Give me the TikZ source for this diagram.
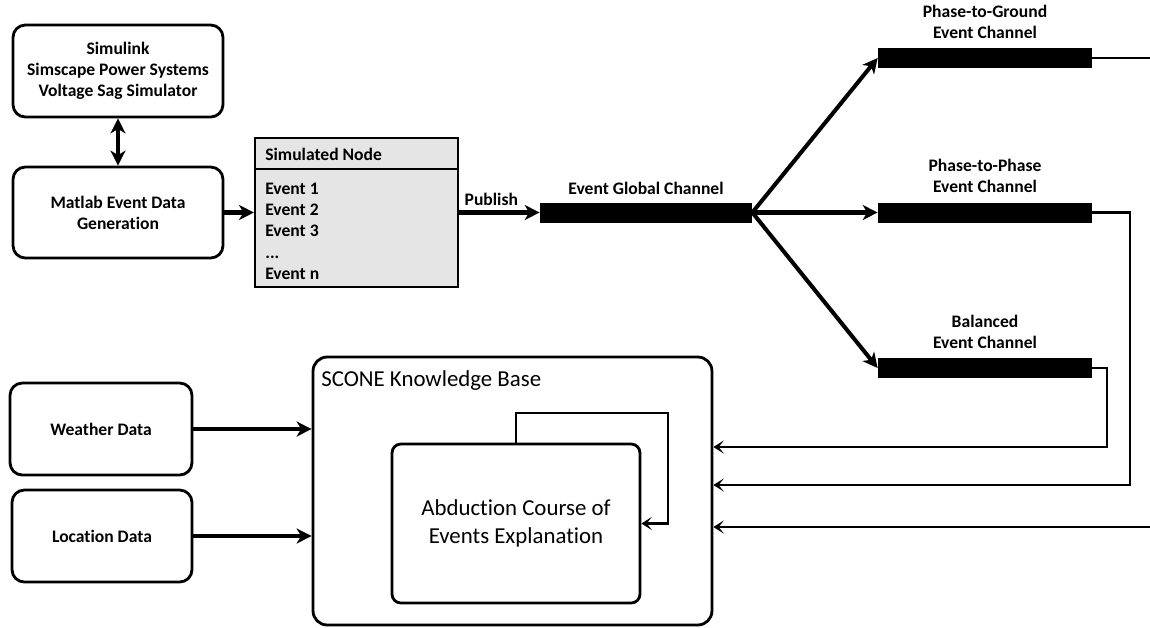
\documentclass[tikz,border=0pt]{standalone}
\usepackage{fontspec}
\setmainfont{Carlito}[Ligatures=NoCommon]
\usetikzlibrary{positioning,arrows.meta}

\tikzset{
	roundbox/.style={draw, line width=1.6pt, rounded corners=7pt, align=center,
		font=\bfseries\fontsize{10}{12}\selectfont},
	listbox/.style={draw, line width=1.2pt, fill=black!10},
	boldtxt/.style={font=\bfseries\fontsize{10}{12}\selectfont, inner sep=0pt},
	bar/.style={fill=black, minimum width=4.28cm, minimum height=0.4cm, inner sep=0pt},
	chlabel/.style={font=\bfseries\fontsize{10}{12}\selectfont, align=center, inner sep=1pt},
	bigarrow/.style={line width=2.3pt, -{Stealth[length=8.5pt, width=8.5pt, inset=2.5pt]}},
	thinarrow/.style={line width=1.3pt, -{Stealth[length=6pt, width=7.5pt, inset=3pt]}}
}

\begin{document}
\begin{tikzpicture}[x=0.02cm, y=-0.02cm]
	\useasboundingbox (0,0) rectangle (1150,627);
	% sources
	\node[roundbox, minimum width=4.2cm, minimum height=1.84cm] (sim) at (118,71)
		{Simulink\\Simscape Power Systems\\Voltage Sag Simulator};
	\node[roundbox, minimum width=4.2cm, minimum height=1.82cm] (matlab) at (118,212.5)
		{Matlab Event Data\\Generation};
	\node[roundbox, minimum width=3.64cm, minimum height=1.84cm] (weather) at (101,429) {Weather Data};
	\node[roundbox, minimum width=3.6cm, minimum height=1.84cm] (location) at (102,536) {Location Data};
	% simulated node
	\node[listbox, minimum width=4.06cm, minimum height=2.98cm] (simnode) at (356.5,212.5) {};
	\draw[line width=1.2pt] ([yshift=-0.64cm]simnode.north west) -- ([yshift=-0.64cm]simnode.north east);
	\node[boldtxt, anchor=west] (simhead) at (265,154) {Simulated Node};
	\node[boldtxt, anchor=north west, align=left] (events) at (265,183)
		{Event 1\\Event 2\\Event 3\\...\\Event n};
	% channels
	\node[bar, minimum width=4.24cm] (global) at (646,212.5) {};
	\node[chlabel, above=3pt of global] (globaltxt) {Event Global Channel};
	\node[bar] (ptg) at (985,58) {};
	\node[bar] (ptp) at (985,212.5) {};
	\node[bar] (bal) at (985,368) {};
	\node[chlabel, above=4pt of ptg] (ptgtxt) {Phase-to-Ground\\Event Channel};
	\node[chlabel, above=4pt of ptp] (ptptxt) {Phase-to-Phase\\Event Channel};
	\node[chlabel, above=4pt of bal] (baltxt) {Balanced\\Event Channel};
	% knowledge base
	\node[draw, line width=1.6pt, rounded corners=8pt, minimum width=7.98cm, minimum height=5.36cm] (scone) at (512.5,491) {};
	\node[anchor=west, inner sep=0pt, font=\fontsize{13}{15}\selectfont] (sconetxt) at (321,381) {SCONE Knowledge Base};
	\node[draw, line width=1.6pt, rounded corners=5pt, minimum width=4.96cm, minimum height=3.18cm, align=center,
		font=\fontsize{13}{15.5}\selectfont] (abd) at (516,523.5) {Abduction Course of\\Events Explanation};
	\coordinate (loop) at (668,413);
	\coordinate (balturn) at (1107,447);
	\coordinate (ptpturn) at (1130,485);
	\coordinate (ptgturn) at (1160,527);

	\draw[line width=2.3pt, {Stealth[length=8.5pt, width=8.5pt, inset=2.5pt]}-{Stealth[length=8.5pt, width=8.5pt, inset=2.5pt]}] (sim) -- (matlab);
	\draw[bigarrow] (matlab) -- (simnode);
	\draw[bigarrow] (simnode) -- node[boldtxt, above=3pt, pos=0.4] (pub) {Publish} (global);
	\foreach \ch in {ptg, ptp, bal}
		\draw[bigarrow] (global.east) -- (\ch.west);
	\draw[bigarrow] (weather) -- (weather -| scone.west);
	\draw[bigarrow] (location) -- (location -| scone.west);

	\draw[thinarrow] (bal.east) -| (balturn) -- (scone.east |- balturn);
	\draw[thinarrow] (ptp.east) -| (ptpturn) -- (scone.east |- ptpturn);
	\draw[thinarrow] (ptg.east) -| (ptgturn) -- (scone.east |- ptgturn);
	\draw[thinarrow] (abd.north) |- (loop) |- (abd.east);
\end{tikzpicture}
\end{document}
